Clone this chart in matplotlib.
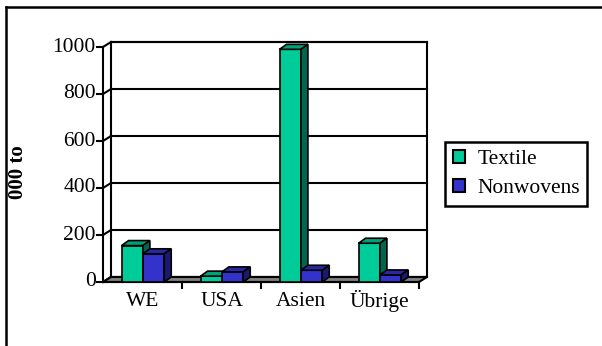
import matplotlib
matplotlib.use("Agg")
import matplotlib.pyplot as plt
from matplotlib.patches import Polygon, Patch
from matplotlib.lines import Line2D

categories = ["WE", "USA", "Asien", "Übrige"]
textile = [155, 25, 990, 165]
nonwovens = [120, 43, 50, 30]
series_names = ["Textile", "Nonwovens"]
y_ticks = [0, 200, 400, 600, 800, 1000]

W, H = 602, 346
DPI = 100
fig = plt.figure(figsize=(W / DPI, H / DPI), dpi=DPI)
fig.patch.set_facecolor("white")

# front plane of the 3D box in pixels
fx0, fx1 = 103, 419
fy0, fy1 = 282, 47
ax = fig.add_axes([fx0 / W, 1 - fy0 / H, (fx1 - fx0) / W, (fy0 - fy1) / H])
ax.set_xlim(0, len(categories))
ax.set_ylim(0, 1000)
ax.axis("off")

serif = "Liberation Serif"
ncat = len(categories)

# depth offset (pixels) converted to data units through the axes scale
DX, DY = 8, 5
def off(x, y, dx=DX, dy=DY):
    px, py = ax.transData.transform((x, y))
    return tuple(ax.transData.inverted().transform((px + dx, py + dy)))

LW = 1.5
# back wall
bw = [off(0, 0), off(ncat, 0), off(ncat, 1000), off(0, 1000)]
ax.add_patch(Polygon(bw, closed=True, facecolor="white", edgecolor="black",
                     lw=LW, clip_on=False, zorder=1))
# gridlines on back wall and side wall, ticks and labels
for v in y_ticks:
    x0b, y0b = off(0, v)
    x1b, y1b = off(ncat, v)
    ax.add_line(Line2D([x0b, x1b], [y0b, y1b], color="black", lw=LW,
                       clip_on=False, zorder=1.5))
    ax.add_line(Line2D([0, x0b], [v, y0b], color="black", lw=LW,
                       clip_on=False, zorder=1.5))
    px, py = ax.transData.transform((0, v))
    tx, _ = ax.transData.inverted().transform((px - 6, py))
    ax.add_line(Line2D([tx, 0], [v, v], color="black", lw=LW, clip_on=False, zorder=5))
    ax.text(tx - 0.015, v, str(v), ha="right", va="center", fontsize=15.5,
            family=serif, clip_on=False)

# floor
floor = [(0, 0), (ncat, 0), off(ncat, 0), off(0, 0)]
ax.add_patch(Polygon(floor, closed=True, facecolor="#808080", edgecolor="black",
                     lw=LW, clip_on=False, zorder=2))
# front axis lines
ax.add_line(Line2D([0, 0], [0, 1000], color="black", lw=LW, clip_on=False, zorder=5))
ax.add_line(Line2D([0, ncat], [0, 0], color="black", lw=LW, clip_on=False, zorder=5))
# category tick marks
_, ty = ax.transData.inverted().transform(
    (0, ax.transData.transform((0, 0))[1] - 6))
for i in range(1, ncat + 1):
    ax.add_line(Line2D([i, i], [0, ty], color="black", lw=LW, clip_on=False, zorder=5))
for i, c in enumerate(categories):
    ax.text(i + 0.5, -82, c, ha="center", va="center", fontsize=15.5,
            family=serif, clip_on=False)

# bars
colors = {
    "Textile": ("#00CC99", "#00A07A", "#006650"),
    "Nonwovens": ("#3333CC", "#2828A0", "#1A1A70"),
}
bw_ = 0.27
start = 0.235
bdx, bdy = 7, 5
for i in range(ncat):
    for j, (name, vals) in enumerate(zip(series_names, [textile, nonwovens])):
        v = vals[i]
        x0 = i + start + j * bw_
        x1 = x0 + bw_
        front_c, top_c, side_c = colors[name]
        z = 10 + i * 2 + j
        ax.bar(x0, v, width=bw_, align="edge", color=front_c, edgecolor="black",
               lw=1.2, zorder=z, clip_on=False)
        top = [(x0, v), (x1, v), off(x1, v, bdx, bdy), off(x0, v, bdx, bdy)]
        side = [(x1, 0), off(x1, 0, bdx, bdy), off(x1, v, bdx, bdy), (x1, v)]
        ax.add_patch(Polygon(top, closed=True, facecolor=top_c, edgecolor="black",
                             lw=1.2, zorder=z, clip_on=False))
        ax.add_patch(Polygon(side, closed=True, facecolor=side_c, edgecolor="black",
                             lw=1.2, zorder=z, clip_on=False))

# y label
fig.text(18 / W, 1 - 172 / H, "000 to", rotation=90, ha="center", va="center",
         fontsize=15, fontweight="bold", family=serif)

# legend
handles = [Patch(facecolor=colors[n][0], edgecolor="black", lw=1.5) for n in series_names]
leg = fig.legend(handles, series_names, loc="upper left",
                 bbox_to_anchor=(445 / W, 1 - 142 / H),
                 prop={"family": serif, "size": 15.5}, frameon=True, fancybox=False,
                 framealpha=1, handlelength=0.6, handleheight=0.6, handletextpad=0.55,
                 borderpad=0.35, labelspacing=0.45, borderaxespad=0)
leg.get_frame().set_edgecolor("black")
leg.get_frame().set_linewidth(1.8)

# outer frame (left and top visible)
fig.add_artist(Line2D([6 / W, 6 / W], [0, 1 - 7 / H], color="black", lw=1.8,
                      transform=fig.transFigure))
fig.add_artist(Line2D([6 / W, 1], [1 - 7 / H, 1 - 7 / H], color="black", lw=1.8,
                      transform=fig.transFigure))

fig.savefig("out.png", dpi=DPI)
